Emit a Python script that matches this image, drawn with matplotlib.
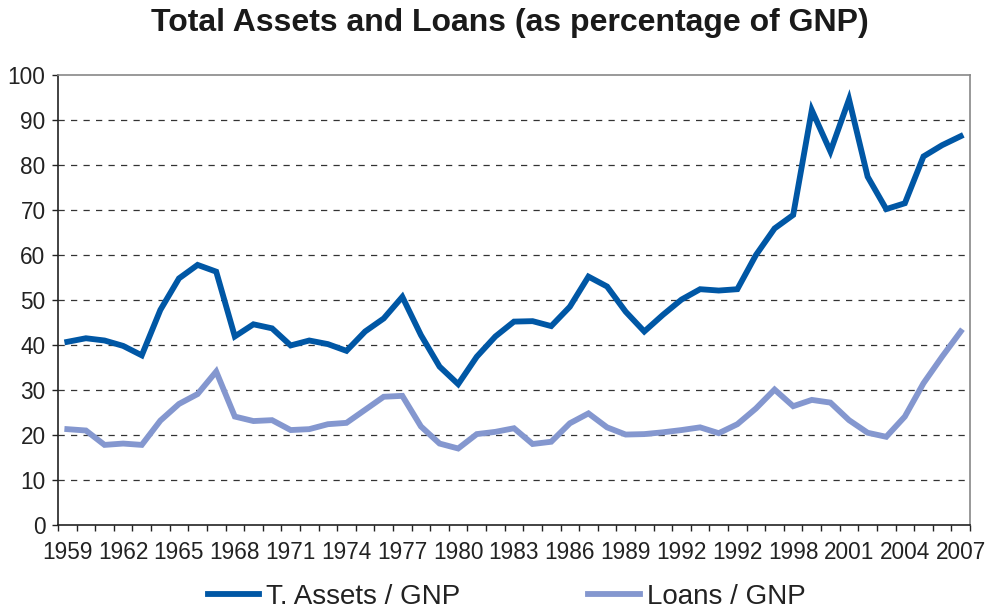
import numpy as np
import matplotlib.pyplot as plt

plt.rcParams['font.family'] = ['Liberation Sans', 'DejaVu Sans']

years = list(range(1959, 2008))
tick_labels = ["1959", "1962", "1965", "1968", "1971", "1974", "1977", "1980",
               "1983", "1986", "1989", "1992", "1992", "1998", "2001", "2004", "2007"]

assets_gnp = [40.7, 41.5, 41.0, 39.8, 37.7, 47.8, 54.8, 57.8, 56.3, 41.9,
              44.6, 43.7, 39.9, 41.0, 40.2, 38.7, 43.0, 45.9, 50.7, 42.2,
              35.2, 31.3, 37.4, 41.9, 45.2, 45.3, 44.2, 48.5, 55.2, 53.0,
              47.4, 43.0, 46.7, 50.1, 52.4, 52.1, 52.4, 60.0, 65.9, 68.9,
              92.2, 83.0, 94.6, 77.4, 70.2, 71.5, 81.9, 84.4, 86.4]

loans_gnp = [21.3, 21.0, 17.8, 18.1, 17.8, 23.2, 26.9, 29.1, 34.1, 24.1,
             23.1, 23.3, 21.1, 21.3, 22.4, 22.7, 25.6, 28.5, 28.7, 21.9,
             18.1, 17.0, 20.2, 20.7, 21.5, 18.0, 18.5, 22.6, 24.8, 21.7,
             20.1, 20.2, 20.6, 21.1, 21.7, 20.4, 22.4, 25.9, 30.1, 26.4,
             27.8, 27.2, 23.3, 20.5, 19.6, 24.1, 31.5, 37.4, 43.0]

dark_blue = "#0057a5"
light_blue = "#8497cf"

fig = plt.figure(figsize=(9.86, 6.09), dpi=100)
ax = fig.add_axes([58 / 986, 84 / 609, 912 / 986, 450 / 609])

x = np.arange(len(years))
ax.plot(x, assets_gnp, color=dark_blue, linewidth=4.2, label="T. Assets / GNP",
        solid_joinstyle="miter")
ax.plot(x, loans_gnp, color=light_blue, linewidth=4.2, label="Loans / GNP",
        solid_joinstyle="miter")

ax.set_xlim(-0.5, len(years) - 0.5)
ax.set_ylim(0, 100)

# y axis: ticks every 10 with dashed gridlines
ax.set_yticks(range(0, 101, 10))
for v in range(10, 100, 10):
    ax.axhline(v, color="#333333", linewidth=0.9, linestyle=(0, (5, 5)), zorder=0)

# x axis: tick marks on category borders, labels every third year
ax.set_xticks(np.arange(-0.5, len(years), 1.0))
ax.set_xticklabels([])
ax.set_xticks(x[::3], minor=True)
ax.set_xticklabels(tick_labels, minor=True)
ax.tick_params(axis="x", which="major", length=4.5, width=1, color="#222222", direction="out")
ax.tick_params(axis="x", which="minor", length=0, pad=11.5, labelsize=16.3, colors="#222222")
ax.tick_params(axis="y", length=4.5, width=1, color="#222222", labelsize=16.3,
               labelcolor="#222222", pad=4.5)

for side in ("left", "bottom"):
    ax.spines[side].set_color("#222222")
    ax.spines[side].set_linewidth(1.2)
for side in ("top", "right"):
    ax.spines[side].set_color("#888888")
    ax.spines[side].set_linewidth(1.2)

fig.text(0.517, 0.962, "Total Assets and Loans (as percentage of GNP)",
         ha="center", va="center", fontsize=23, fontweight="bold", color="#1a1a1a")

fig.legend(loc="center", bbox_to_anchor=(0.514, 0.02), ncol=2, frameon=False,
           fontsize=20, handlelength=1.85, handletextpad=0.26, columnspacing=4.6,
           labelcolor="#222222")

fig.savefig("out.png", dpi=100)
